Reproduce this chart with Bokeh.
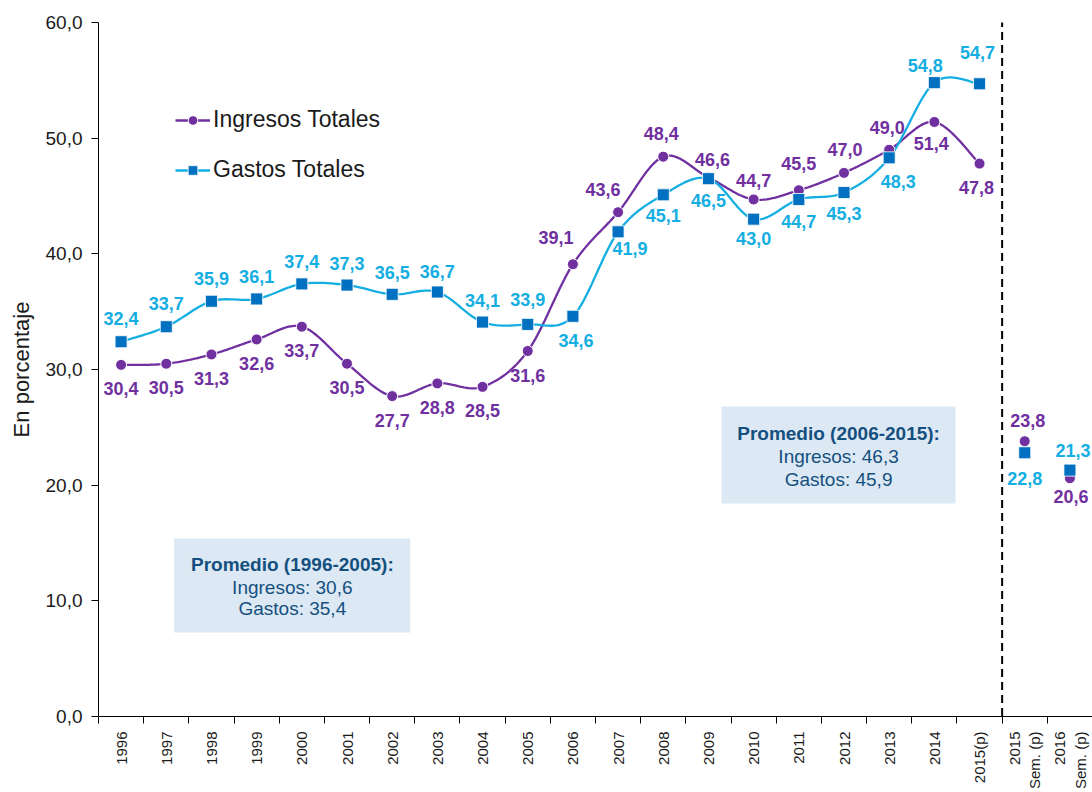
import math
from bokeh.plotting import figure
from bokeh.models import (ColumnDataSource, Range1d, FixedTicker, BoxAnnotation, Label,
                          Legend, LegendItem, Arrow)
from bokeh.embed import file_html
from bokeh.resources import INLINE

# ---------------- data ----------------
categories = ["1996", "1997", "1998", "1999", "2000", "2001", "2002", "2003", "2004", "2005",
              "2006", "2007", "2008", "2009", "2010", "2011", "2012", "2013", "2014", "2015(p)",
              "2015\nSem. (p)", "2016\nSem. (p)"]
ingresos = [30.4, 30.5, 31.3, 32.6, 33.7, 30.5, 27.7, 28.8, 28.5, 31.6,
            39.1, 43.6, 48.4, 46.6, 44.7, 45.5, 47.0, 49.0, 51.4, 47.8,
            23.8, 20.6]
gastos = [32.4, 33.7, 35.9, 36.1, 37.4, 37.3, 36.5, 36.7, 34.1, 33.9,
          34.6, 41.9, 45.1, 46.5, 43.0, 44.7, 45.3, 48.3, 54.8, 54.7,
          22.8, 21.3]
n_annual = 20  # 1996..2015(p) joined by a line; semesters shown as loose points
y_ticks = [0, 10, 20, 30, 40, 50, 60]
box1_lines = ["Promedio (1996-2005):", "Ingresos: 30,6", "Gastos: 35,4"]
box2_lines = ["Promedio (2006-2015):", "Ingresos: 46,3", "Gastos: 45,9"]

# label placement (style): pixel offsets (dx, dy up)
ing_dx = [0, 0, 0, 0, 0, 0, 0, 0, 0, 0, -17, -15, -2, 4, 0, 0, 1, -2, -3, -3, 3, 1]
ing_dy = [-24, -24, -24, -24, -24, -24, -24, -24, -24, -25, 27, 23, 23, 18, 19, 27, 23, 22, -22, -24, 21, -18]
gas_dx = [0, 0, 0, 0, 0, 0, 0, 0, 0, 0, 3, 12, 0, 0, 0, 0, 0, 9, -9, -2, 0, 3]
gas_dy = [23, 23, 23, 22, 22, 22, 22, 21, 22, 25, -24, -17, -21, -22, -19, -22, -21, -24, 17, 31, -26, 20]

PURPLE = "#7030A0"
CYAN = "#14AEE2"
BLUE = "#0070C0"
BOXFILL = "#DCE8F4"
BOXTEXT = "#14507F"
FONT = "Liberation Sans"


def fmt(v):
    return f"{v:.1f}".replace(".", ",")


def smooth(xs, ys, steps=24):
    """Excel-like smoothed line (Catmull-Rom / cubic Bezier)."""
    n = len(xs)
    ox, oy = [], []
    for i in range(n - 1):
        i0 = max(i - 1, 0)
        i3 = min(i + 2, n - 1)
        p1 = (xs[i], ys[i])
        p2 = (xs[i + 1], ys[i + 1])
        c1 = (p1[0] + (xs[i + 1] - xs[i0]) / 6.0, p1[1] + (ys[i + 1] - ys[i0]) / 6.0)
        c2 = (p2[0] - (xs[i3] - xs[i]) / 6.0, p2[1] - (ys[i3] - ys[i]) / 6.0)
        for k in range(steps + (1 if i == n - 2 else 0)):
            t = k / steps
            a = (1 - t) ** 3
            b = 3 * (1 - t) ** 2 * t
            c = 3 * (1 - t) * t ** 2
            d = t ** 3
            ox.append(a * p1[0] + b * c1[0] + c * c2[0] + d * p2[0])
            oy.append(a * p1[1] + b * c1[1] + c * c2[1] + d * p2[1])
    return ox, oy


xs = list(range(len(categories)))

p = figure(width=1092, height=792, output_backend="svg", toolbar_location=None,
           x_range=Range1d(-0.5, 21.5), y_range=Range1d(0, 60),
           min_border_left=98, min_border_right=0, min_border_top=22, min_border_bottom=76)
p.outline_line_color = None
p.xgrid.visible = False
p.ygrid.visible = False
p.background_fill_color = "white"

# average boxes
p.add_layout(BoxAnnotation(left=1.174, right=6.40, bottom=7.26, top=15.39,
                           fill_color=BOXFILL, fill_alpha=1, line_color=None, level="underlay"))
p.add_layout(BoxAnnotation(left=13.29, right=18.47, bottom=18.41, top=26.8,
                           fill_color=BOXFILL, fill_alpha=1, line_color=None, level="underlay"))
for (cx, ys_, lines) in [(3.79, [13.14, 11.15, 9.34], box1_lines),
                         (15.88, [24.47, 22.5, 20.49], box2_lines)]:
    for j, (yy, t) in enumerate(zip(ys_, lines)):
        p.add_layout(Label(x=cx, y=yy, text=t, text_align="center", text_baseline="middle",
                           text_font=FONT, text_font_size="19px", text_color=BOXTEXT,
                           text_font_style="bold" if j == 0 else "normal"))

# smoothed lines
sx, sy = smooth(xs[:n_annual], ingresos[:n_annual])
ing_line = p.line(sx, sy, line_color=PURPLE, line_width=2.3)
gx, gy = smooth(xs[:n_annual], gastos[:n_annual])
gas_line = p.line(gx, gy, line_color=CYAN, line_width=2.3)

ing_pts = p.scatter(xs, ingresos, marker="circle", size=11, fill_color=PURPLE,
                    line_color="white", line_width=1)
gas_pts = p.scatter(xs, gastos, marker="square", size=12, fill_color=BLUE,
                    line_color="white", line_width=0.8)

# data labels
ing_src = ColumnDataSource(dict(x=xs, y=ingresos, t=[fmt(v) for v in ingresos],
                                dx=ing_dx, dy=[-d for d in ing_dy]))
gas_src = ColumnDataSource(dict(x=xs, y=gastos, t=[fmt(v) for v in gastos],
                                dx=gas_dx, dy=[-d for d in gas_dy]))
for src, col in [(ing_src, PURPLE), (gas_src, CYAN)]:
    p.text(x="x", y="y", text="t", x_offset="dx", y_offset="dy", source=src,
           text_align="center", text_baseline="middle", text_font_size="18px",
           text_font_style="bold", text_color=col, text_font={"value": FONT})

# dashed separator
p.add_layout(Arrow(start=None, end=None, x_start=19.5, y_start=-6.7, x_end=19.5, y_end=61.2,
                   line_color="black", line_width=2, line_dash="8 5"))

# legend
legend = Legend(items=[LegendItem(label="Ingresos Totales", renderers=[ing_line, ing_pts]),
                       LegendItem(label="Gastos Totales", renderers=[gas_line, gas_pts])],
                location=(77, 533), orientation="vertical",
                glyph_width=35, glyph_height=24, label_height=24, spacing=23,
                label_standoff=3, padding=0, margin=0,
                label_text_font=FONT, label_text_font_size="23px", label_text_color="#1a1a1a",
                border_line_color=None, background_fill_alpha=0)
p.add_layout(legend)

# y axis
p.yaxis.ticker = FixedTicker(ticks=y_ticks)
p.yaxis.major_label_overrides = {t: fmt(t) for t in y_ticks}
p.yaxis.major_tick_in = 0
p.yaxis.major_tick_out = 7
p.yaxis.minor_tick_in = 0
p.yaxis.minor_tick_out = 0
p.yaxis.major_label_standoff = 9
p.yaxis.major_label_text_font = FONT
p.yaxis.major_label_text_font_size = "19px"
p.yaxis.major_label_text_color = "#1a1a1a"
p.yaxis.axis_label = "En porcentaje"
p.yaxis.axis_label_text_font = FONT
p.yaxis.axis_label_text_font_size = "22px"
p.yaxis.axis_label_text_font_style = "normal"
p.yaxis.axis_label_text_color = "#1a1a1a"
p.yaxis.axis_label_standoff = 9
p.yaxis.axis_line_color = "black"

# x axis
p.xaxis.ticker = FixedTicker(ticks=xs, minor_ticks=[i - 0.5 for i in range(len(xs) + 1)])
p.xaxis.major_label_overrides = {i: c for i, c in enumerate(categories)}
p.xaxis.major_label_orientation = math.pi / 2
p.xaxis.major_tick_in = 0
p.xaxis.major_tick_out = 0
p.xaxis.minor_tick_in = 0
p.xaxis.minor_tick_out = 7
p.xaxis.minor_tick_line_color = "black"
p.xaxis.major_label_standoff = 8
p.xaxis.major_label_text_font = FONT
p.xaxis.major_label_text_font_size = "15px"
p.xaxis.major_label_text_color = "#1a1a1a"
p.xaxis.axis_line_color = "black"

open("out.html", "w").write(file_html(p, INLINE))
